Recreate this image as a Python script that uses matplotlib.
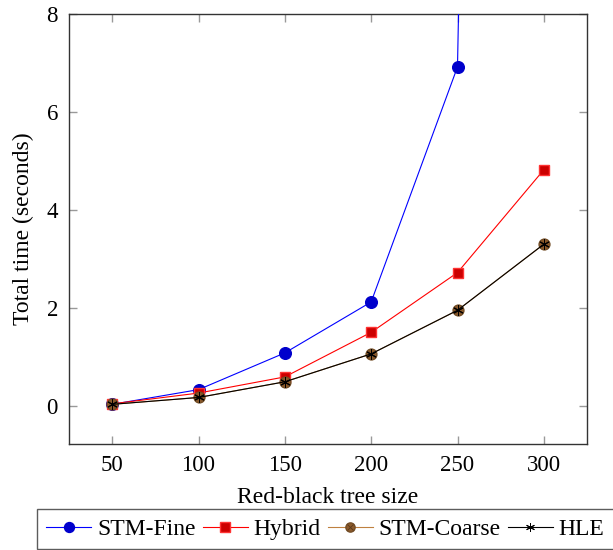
import matplotlib
matplotlib.use("Agg")
import matplotlib.pyplot as plt
from matplotlib.legend_handler import HandlerTuple

sizes = [50, 100, 150, 200, 250, 300]
stm_fine = [0.03, 0.33, 1.08, 2.12, 6.92, 100.0]
hybrid = [0.04, 0.26, 0.59, 1.50, 2.72, 4.82]
stm_coarse = [0.03, 0.17, 0.49, 1.06, 1.95, 3.30]
hle = [0.03, 0.17, 0.49, 1.06, 1.95, 3.30]
yticks = [0, 2, 4, 6, 8]

plt.rcParams['font.family'] = ['Liberation Serif', 'DejaVu Serif']

fig = plt.figure(figsize=(6.13, 5.5), dpi=100)
ax = fig.add_axes([69/613, 1-444/550, (587-69)/613, (444-14)/550])

lw = 0.8
h1, = ax.plot(sizes, stm_fine, color='#0000ff', lw=lw, marker='o', ms=8.4,
              mfc='#0000cc', mec='#0000cc', zorder=3)
h2, = ax.plot(sizes, hybrid, color='#ff0000', lw=lw, marker='s', ms=7.8,
              mfc='#cc0000', mec='#ff3333', zorder=3)
h3a, = ax.plot(sizes, stm_coarse, color='#bf8040', lw=lw, marker='o', ms=7.8,
               mfc='#8c5a2b', mec='#734d26', zorder=3)
h3b, = ax.plot(sizes, stm_coarse, ls='none', marker='x', ms=5,
               mec='#5a3a1a', mew=0.6, zorder=3)
h4, = ax.plot(sizes, hle, color='black', lw=lw, marker=(6, 2, 0), ms=7.5,
              mew=0.7, zorder=4)

ax.set_xlim(25, 325)
ax.set_ylim(-0.78, 8)
ax.set_xticks(sizes)
ax.set_yticks(yticks)
ax.tick_params(direction='in', length=6, width=1, color='#999999',
               labelsize=16.5, top=True, right=True, pad=8)
for s in ax.spines.values():
    s.set_color('#333333')
    s.set_linewidth(1.0)

ax.set_xlabel('Red-black tree size', fontsize=17, labelpad=8)
ax.set_ylabel('Total time (seconds)', fontsize=17, labelpad=9)

leg = fig.legend([h1, h2, (h3a, h3b), h4],
                 ['STM-Fine', 'Hybrid', 'STM-Coarse', 'HLE'],
                 handler_map={tuple: HandlerTuple(ndivide=1, pad=0)},
                 loc='upper left',
                 bbox_to_anchor=(37/613, 1-509/550), ncol=4, fontsize=17,
                 frameon=True, fancybox=False, edgecolor='#333333',
                 handlelength=1.9, handletextpad=0.25, columnspacing=0.3,
                 borderpad=0.4, borderaxespad=0, markerscale=0.85)
leg.get_frame().set_linewidth(1.0)

fig.savefig('out.png', dpi=100)
